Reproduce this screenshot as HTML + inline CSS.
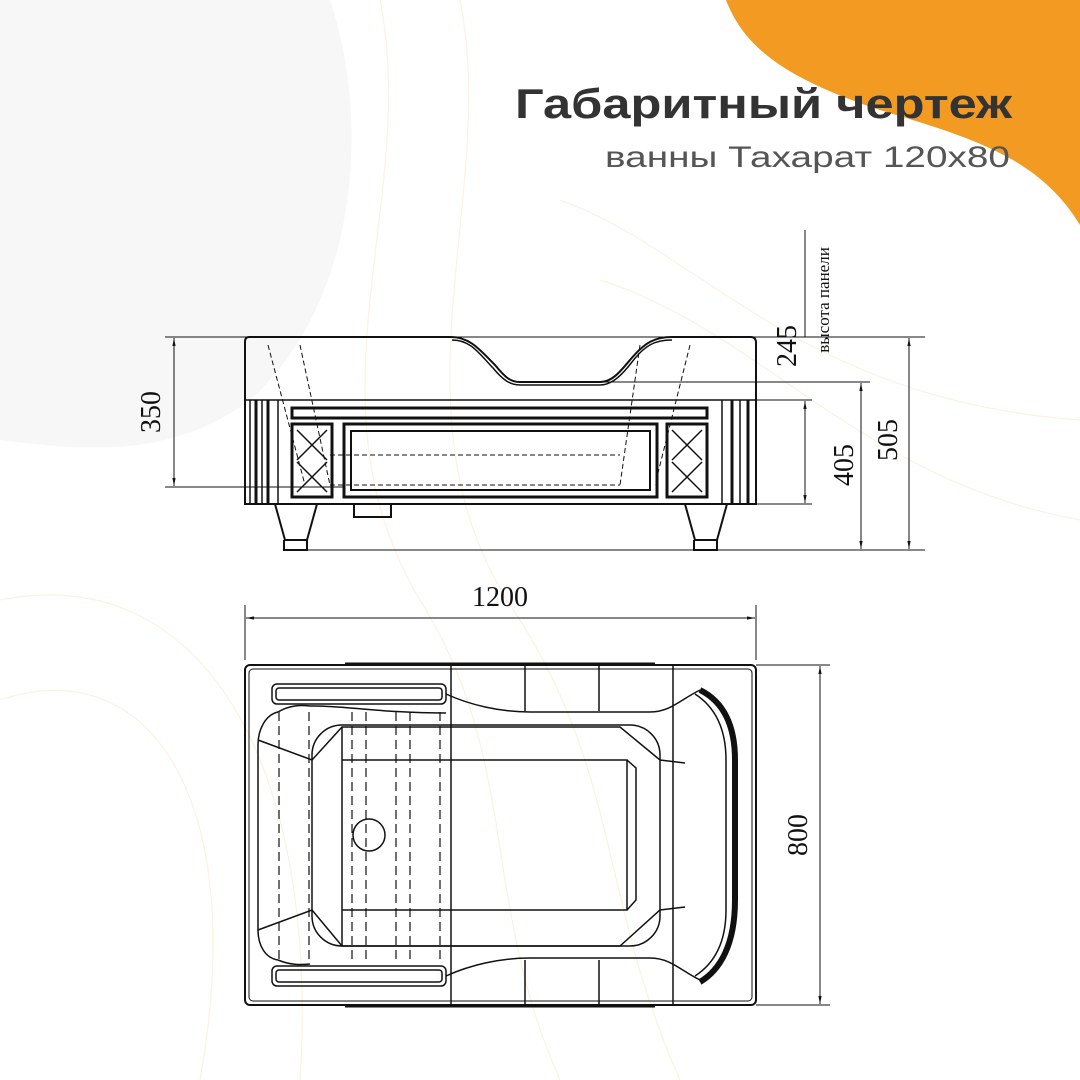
<!DOCTYPE html>
<html><head><meta charset="utf-8"><style>
html,body{margin:0;padding:0;background:#fff}
svg{display:block}
</style></head><body>
<svg width="1080" height="1080" viewBox="0 0 1080 1080" xmlns="http://www.w3.org/2000/svg">
<rect width="1080" height="1080" fill="#fff"/>
<path d="M0 0 H330 C370 120 360 300 250 400 C170 460 80 450 0 440 Z" fill="#f7f7f7"/>
<g fill="none" stroke="#fdf1e2" stroke-width="1.2">
<path d="M380 0 C420 200 300 400 420 600 C520 760 480 900 560 1080"/>
<path d="M460 0 C500 200 380 420 520 620 C620 780 600 900 680 1080"/>
<path d="M560 200 C700 250 800 400 1080 420"/>
<path d="M600 280 C760 330 860 480 1080 520"/>
<path d="M0 700 C150 650 250 800 200 1080"/>
<path d="M0 600 C200 560 320 760 300 1080"/>
</g>
<path d="M726 0 C745 50 790 80 880 110 C980 140 1040 160 1080 225 V0 Z" fill="#f29a21"/>
<text x="515" y="118" textLength="497" lengthAdjust="spacingAndGlyphs" font-family="Liberation Sans, sans-serif" font-weight="bold" font-size="42" fill="#333">Габаритный чертеж</text>
<text x="605" y="167" textLength="405" lengthAdjust="spacingAndGlyphs" font-family="Liberation Sans, sans-serif" font-size="30" fill="#555">ванны Тахарат 120х80</text>

<defs>
<marker id="a" viewBox="0 0 10 10" refX="10" refY="5" markerWidth="8" markerHeight="8" orient="auto-start-reverse"><path d="M0 3 L10 5 L0 7 Z" fill="#111"/></marker>
</defs>

<!-- side view -->
<g fill="none" stroke="#111" stroke-width="1.5">
<path d="M249 337 H451 C470 337 480 350 495 365 C505 377 510 382 520 382 H600 C612 382 620 372 630 360 C645 342 655 337 672 337 H751 C755 337 756 340 756 343 V504 H245 V342 C245 339 246 337 249 337 Z" stroke-width="2"/>
<path d="M452 340 C470 340 478 352 493 368 C503 380 510 385 520 385 H600 C612 385 622 375 632 362 C645 345 655 340 672 340"/>
<line x1="245" y1="400" x2="756" y2="400"/>
<line x1="250" y1="400" x2="250" y2="504"/><line x1="256" y1="400" x2="256" y2="504" stroke-width="3"/>
<line x1="262" y1="400" x2="262" y2="504"/><line x1="268" y1="400" x2="268" y2="504" stroke-width="3"/>
<line x1="278" y1="400" x2="278" y2="504"/>
<line x1="722" y1="400" x2="722" y2="504"/><line x1="732" y1="400" x2="732" y2="504" stroke-width="3"/>
<line x1="740" y1="400" x2="740" y2="504"/><line x1="748" y1="400" x2="748" y2="504" stroke-width="3"/>
<rect x="292" y="408" width="415" height="10" stroke-width="3"/>
<rect x="292" y="424" width="40" height="73" stroke-width="3"/>
<rect x="667" y="424" width="40" height="73" stroke-width="3"/>
<path d="M297 430 L327 460 M327 430 L297 460 M297 462 L327 492 M327 462 L297 492 M672 430 L702 460 M702 430 L672 460 M672 462 L702 492 M702 462 L672 492"/>
<rect x="344" y="424" width="313" height="73" stroke-width="3"/>
<rect x="351" y="431" width="299" height="59" stroke-width="2"/>
<g stroke-dasharray="5 3" stroke-width="1">
<path d="M268 345 L305 485 M300 345 L330 485 M640 345 L620 485 M690 345 L655 485"/>
<path d="M330 455 H620 M330 485 H620"/>
</g>
<path d="M275 504 L285 540 H307 L317 504" stroke-width="2"/>
<path d="M284 540 V550 H307 V540" stroke-width="2"/>
<path d="M685 504 L695 540 H717 L727 504" stroke-width="2"/>
<path d="M694 540 V550 H717 V540" stroke-width="2"/>
<rect x="354" y="504" width="37" height="13" stroke-width="2"/>
</g>
<g stroke="#111" stroke-width="1" fill="none">
<line x1="165" y1="337" x2="925" y2="337"/>
<line x1="603" y1="382" x2="870" y2="382"/>
<line x1="756" y1="400" x2="812" y2="400"/>
<line x1="756" y1="504" x2="812" y2="504"/>
<line x1="307" y1="550" x2="925" y2="550"/>
<line x1="165" y1="487" x2="345" y2="487"/>
<line x1="174" y1="338" x2="174" y2="486" marker-start="url(#a)" marker-end="url(#a)"/>
<line x1="805" y1="230" x2="805" y2="337"/>
<line x1="805" y1="401" x2="805" y2="503" marker-start="url(#a)" marker-end="url(#a)"/>
<line x1="861" y1="383" x2="861" y2="549" marker-start="url(#a)" marker-end="url(#a)"/>
<line x1="909" y1="338" x2="909" y2="549" marker-start="url(#a)" marker-end="url(#a)"/>
<line x1="245" y1="605" x2="245" y2="660"/>
<line x1="756" y1="605" x2="756" y2="660"/>
<line x1="246" y1="618" x2="755" y2="618" marker-start="url(#a)" marker-end="url(#a)"/>
<line x1="756" y1="665" x2="830" y2="665"/>
<line x1="756" y1="1005" x2="830" y2="1005"/>
<line x1="820" y1="666" x2="820" y2="1004" marker-start="url(#a)" marker-end="url(#a)"/>
</g>
<g font-family="Liberation Serif, serif" font-size="28" fill="#111">
<text transform="translate(160 412) rotate(-90)" text-anchor="middle">350</text>
<text transform="translate(796 346) rotate(-90)" text-anchor="middle">245</text>
<text transform="translate(853 465) rotate(-90)" text-anchor="middle">405</text>
<text transform="translate(897 440) rotate(-90)" text-anchor="middle">505</text>
<text x="500" y="606" text-anchor="middle">1200</text>
<text transform="translate(807 835) rotate(-90)" text-anchor="middle">800</text>
<text transform="translate(829 300) rotate(-90)" text-anchor="middle" font-size="17">высота панели</text>
</g>

<!-- top view -->
<g fill="none" stroke="#111" stroke-width="1.5">
<rect x="245" y="665" width="511" height="340" rx="5" stroke-width="2"/>
<rect x="249" y="669" width="503" height="332" rx="4" stroke-width="1"/>
<line x1="345" y1="664" x2="655" y2="664" stroke-width="3"/>
<line x1="345" y1="1006" x2="655" y2="1006" stroke-width="3"/>
<path d="M451 665 V1005 M525 665 V711 M525 960 V1005 M599 665 V711 M599 960 V1005 M673 665 V1005"/>
<rect x="272" y="684" width="174" height="20" rx="5"/>
<rect x="276" y="688" width="166" height="12" rx="3"/>
<rect x="272" y="966" width="174" height="20" rx="5"/>
<rect x="276" y="970" width="166" height="12" rx="3"/>
<path d="M446 694 C470 705 500 712 530 712 H650 C670 712 680 700 700 690"/>
<path d="M446 976 C470 965 500 958 530 958 H650 C670 958 680 970 700 980"/>
<path d="M278 712 C265 715 258 730 258 745 V930 C258 945 265 958 278 960 C290 965 300 965 310 964 M278 712 C290 705 300 705 310 706"/>
<path d="M310 706 C340 705 380 713 446 713"/>
<path d="M258 740 L312 760 L342 727 H620 L660 760 L685 763 M258 930 L312 910 L342 946 H620 L660 910 L685 907"/>
<rect x="312" y="725" width="348" height="221" rx="30"/>
<path d="M342 727 V946 M342 760 H627 V910 H342 M627 760 L636 768 V900 L627 910"/>
<path d="M700 690 C720 700 735 720 735 760 V900 C735 945 720 970 700 982" stroke-width="6"/>
<path d="M695 694 C712 705 726 725 726 760 V910 C726 945 712 965 695 976"/>
<circle cx="369" cy="835" r="16"/>
<g stroke-dasharray="9 5" stroke-width="1.2">
<path d="M279 712 V960 M309 712 V960 M352 712 V960 M366 712 V960 M396 712 V960 M410 712 V960 M440 712 V960"/>
</g>
</g>
</svg>
</body></html>
